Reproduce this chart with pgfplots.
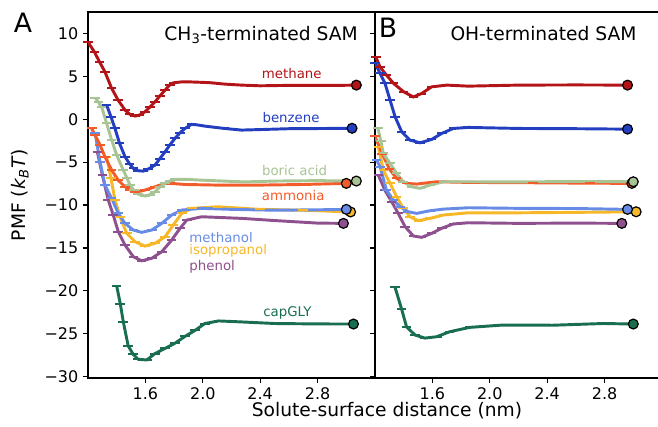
\documentclass[border=0pt]{standalone}
\usepackage{fontspec}
\setmainfont{DejaVu Sans}
\usepackage{pgfplots}
\pgfplotsset{compat=1.18}
\definecolor{cMethane}{RGB}{178,20,24}
\definecolor{cBenzene}{RGB}{36,62,192}
\definecolor{cBoric}{RGB}{168,196,148}
\definecolor{cAmmonia}{RGB}{242,92,42}
\definecolor{cMethanol}{RGB}{104,140,230}
\definecolor{cIso}{RGB}{246,184,40}
\definecolor{cPhenol}{RGB}{142,80,142}
\definecolor{cCap}{RGB}{26,110,80}
\pgfplotsset{
  common/.style={
    scale only axis, anchor=south west, height=274.5pt,
    xmin=1.2, ymin=-30.15, ymax=12.5,
    xtick={1.6,2.0,2.4,2.8}, xticklabels={1.6,2.0,2.4,2.8},
    ytick={-30,-25,-20,-15,-10,-5,0,5,10},
    tick align=outside, xtick pos=left, ytick pos=left,
    major tick length=3.75pt,
    tick style={black, line width=0.9pt},
    axis line style={line width=0.9pt},
    tick label style={font=\fontsize{12}{14}\selectfont},
  },
  pmf/.style={line width=2.2pt, mark=-, mark size=3.6pt, mark options={solid, line width=1.5pt}},
  endpt/.style={only marks, mark=*, mark size=3.7pt, draw=black, line width=0.9pt},
}
\begin{document}
\begin{tikzpicture}
\useasboundingbox (-66pt,-36pt) rectangle (427.5pt,283.5pt);
\clip (-66pt,-36pt) rectangle (427.5pt,283.5pt);
% ---------------- Panel A ----------------
\begin{axis}[common, at={(0pt,0pt)}, width=215.25pt, xmax=3.2,
  yticklabels={−30,−25,−20,−15,−10,−5,0,5,10}]
\addplot[pmf, color=cCap] coordinates {
(1.40,-19.43) (1.425,-21.5) (1.446,-23.6) (1.48,-26.4) (1.515,-27.4) (1.55,-27.97)
(1.61,-28.05) (1.667,-27.3) (1.737,-26.7) (1.806,-26.1) (1.876,-25.3) (1.946,-24.6)
(2.015,-23.8) (2.11,-23.5) (2.25,-23.6) (2.5,-23.8) (2.8,-23.85) (3.05,-23.86)};
\addplot[pmf, color=cPhenol] coordinates {
(1.265,-3.8) (1.30,-6.5) (1.341,-9.4) (1.376,-11.16) (1.411,-13.1) (1.458,-14.66)
(1.516,-16.02) (1.574,-16.49) (1.644,-16.2) (1.714,-15.44) (1.783,-14.08) (1.841,-12.72)
(1.888,-11.75) (1.992,-11.36) (2.271,-11.55) (2.5,-11.8) (2.8,-12.1) (2.98,-12.13)};
\addplot[pmf, color=cIso] coordinates {
(1.33,-4.4) (1.36,-6.9) (1.388,-9.4) (1.423,-11.36) (1.47,-13.3) (1.528,-14.27)
(1.597,-14.78) (1.667,-14.46) (1.737,-13.69) (1.794,-12.33) (1.853,-10.97) (1.923,-10.38)
(2.106,-10.2) (2.4,-10.5) (2.7,-10.6) (3.03,-10.8)};
\addplot[pmf, color=cMethanol] coordinates {
(1.25,-1.65) (1.284,-4.96) (1.318,-7.67) (1.365,-9.22) (1.411,-10.97) (1.458,-12.13)
(1.516,-12.91) (1.574,-13.18) (1.644,-12.91) (1.714,-12.13) (1.783,-11.16) (1.853,-10.58)
(1.992,-10.38) (2.2,-10.5) (2.5,-10.6) (2.8,-10.55) (3.0,-10.5)};
\addplot[pmf, color=cAmmonia] coordinates {
(1.226,-1.07) (1.249,-1.85) (1.284,-3.0) (1.318,-4.37) (1.365,-5.92) (1.41,-7.09)
(1.458,-7.87) (1.49,-8.2) (1.528,-8.45) (1.56,-8.4) (1.597,-8.25) (1.667,-7.87)
(1.737,-7.47) (1.8,-7.5) (1.876,-7.6) (2.1,-7.67) (2.4,-7.67) (2.7,-7.6) (3.0,-7.47)};
\addplot[pmf, color=cBoric] coordinates {
(1.25,2.5) (1.272,2.0) (1.295,1.45) (1.33,-0.48) (1.365,-2.43) (1.40,-4.18)
(1.446,-5.92) (1.47,-6.8) (1.493,-7.67) (1.52,-8.3) (1.55,-8.72) (1.597,-8.95)
(1.63,-8.8) (1.667,-8.45) (1.70,-7.9) (1.737,-7.47) (1.77,-7.2) (1.806,-7.0)
(1.876,-7.0) (2.0,-7.1) (2.1,-7.17) (2.29,-7.3) (2.5,-7.2) (2.8,-7.15) (3.07,-7.2)};
\addplot[pmf, color=cBenzene] coordinates {
(1.33,1.65) (1.36,0.3) (1.388,-1.07) (1.42,-2.81) (1.458,-4.37) (1.49,-5.2)
(1.516,-5.72) (1.55,-6.0) (1.585,-6.04) (1.62,-5.8) (1.667,-5.34) (1.70,-4.6)
(1.737,-3.79) (1.77,-3.0) (1.806,-2.23) (1.84,-1.6) (1.876,-1.07) (1.92,-0.6)
(1.96,-0.65) (2.015,-0.8) (2.15,-1.07) (2.27,-1.26) (2.4,-1.2) (2.6,-1.1) (2.8,-1.08) (3.04,-1.05)};
\addplot[pmf, color=cMethane] coordinates {
(1.20,9.0) (1.244,7.86) (1.28,6.7) (1.318,5.53) (1.365,3.6) (1.41,2.23) (1.458,1.07)
(1.49,0.6) (1.528,0.37) (1.56,0.5) (1.597,0.87) (1.63,1.4) (1.667,2.03) (1.70,2.7)
(1.737,3.4) (1.77,4.0) (1.795,4.25) (1.85,4.35) (1.9,4.36) (2.0,4.3) (2.06,4.25)
(2.15,4.1) (2.27,3.98) (2.4,3.9) (2.6,3.95) (2.8,3.95) (2.95,3.95) (3.07,3.98)};
\addplot[endpt, fill=cCap] coordinates {(3.05,-23.86)};
\addplot[endpt, fill=cPhenol] coordinates {(2.98,-12.13)};
\addplot[endpt, fill=cIso] coordinates {(3.03,-10.8)};
\addplot[endpt, fill=cMethanol] coordinates {(3.0,-10.5)};
\addplot[endpt, fill=cAmmonia] coordinates {(3.0,-7.47)};
\addplot[endpt, fill=cBoric] coordinates {(3.07,-7.2)};
\addplot[endpt, fill=cBenzene] coordinates {(3.04,-1.05)};
\addplot[endpt, fill=cMethane] coordinates {(3.07,3.98)};
\begin{scope}[every node/.style={font=\fontsize{10}{12}\selectfont, inner sep=0pt}]
\node[text=cMethane] at (axis cs:2.62,5.37) {methane};
\node[text=cBenzene] at (axis cs:2.615,0.21) {benzene};
\node[text=cBoric] at (axis cs:2.64,-5.92) {boric acid};
\node[text=cAmmonia] at (axis cs:2.63,-8.84) {ammonia};
\node[text=cMethanol, anchor=west] at (axis cs:1.905,-13.75) {methanol};
\node[text=cIso, anchor=west] at (axis cs:1.905,-15.3) {isopropanol};
\node[text=cPhenol, anchor=west] at (axis cs:1.905,-17.2) {phenol};
\node[text=cCap] at (axis cs:2.59,-22.6) {capGLY};
\end{scope}
\node[anchor=base, font=\fontsize{14}{16}\selectfont, inner sep=0pt] at (axis cs:2.406,9.22) {CH\textsubscript{3}-terminated SAM};
\end{axis}
% ---------------- Panel B ----------------
\begin{axis}[common, at={(215.25pt,0pt)}, width=226.0pt, xmax=3.3,
  yticklabels={}]
\addplot[pmf, color=cCap] coordinates {
(1.34,-19.6) (1.386,-22.15) (1.42,-24.2) (1.479,-25.14) (1.548,-25.5) (1.63,-25.34)
(1.72,-24.76) (1.86,-24.25) (2.09,-23.98) (2.44,-24.0) (2.79,-23.8) (3.0,-23.86)};
\addplot[pmf, color=cPhenol] coordinates {
(1.223,-6.5) (1.27,-8.3) (1.316,-9.6) (1.362,-10.97) (1.409,-12.5) (1.467,-13.6)
(1.525,-13.76) (1.595,-13.3) (1.665,-12.7) (1.746,-12.2) (1.85,-12.06) (2.2,-12.13)
(2.6,-12.1) (2.92,-12.13)};
\addplot[pmf, color=cIso] coordinates {
(1.223,-3.2) (1.258,-5.92) (1.305,-7.47) (1.351,-9.03) (1.397,-10.38) (1.444,-11.36)
(1.502,-11.82) (1.583,-11.55) (1.676,-11.16) (1.85,-10.9) (2.2,-10.9) (2.6,-10.85) (3.02,-10.78)};
\addplot[pmf, color=cMethanol] coordinates {
(1.21,-4.7) (1.235,-5.53) (1.28,-8.25) (1.328,-9.4) (1.374,-10.2) (1.432,-10.78)
(1.49,-10.97) (1.583,-10.66) (1.676,-10.47) (1.85,-10.31) (2.2,-10.38) (2.6,-10.4) (2.96,-10.5)};
\addplot[pmf, color=cAmmonia] coordinates {
(1.20,-2.0) (1.25,-4.0) (1.30,-5.8) (1.351,-6.9) (1.42,-7.47) (1.49,-7.55)
(1.63,-7.28) (1.85,-7.36) (2.3,-7.4) (2.7,-7.45) (2.99,-7.47)};
\addplot[pmf, color=cBoric] coordinates {
(1.22,-1.0) (1.24,-2.5) (1.258,-3.98) (1.305,-5.14) (1.351,-6.31) (1.397,-7.28)
(1.456,-7.87) (1.514,-8.05) (1.583,-7.67) (1.676,-7.28) (1.85,-7.28) (2.2,-7.3)
(2.6,-7.25) (3.0,-7.28)};
\addplot[pmf, color=cBenzene] coordinates {
(1.20,6.6) (1.235,5.34) (1.27,4.17) (1.305,2.23) (1.34,0.29) (1.386,-1.46)
(1.444,-2.43) (1.514,-2.74) (1.595,-2.35) (1.665,-1.65) (1.746,-1.07) (1.85,-0.95)
(2.2,-1.07) (2.6,-1.1) (2.96,-1.15)};
\addplot[pmf, color=cMethane] coordinates {
(1.205,7.3) (1.235,6.1) (1.28,5.14) (1.33,4.17) (1.40,3.2) (1.467,2.6) (1.525,3.0)
(1.595,3.78) (1.70,3.98) (1.85,3.86) (2.2,3.98) (2.6,4.0) (2.96,3.98)};
\addplot[endpt, fill=cCap] coordinates {(3.0,-23.86)};
\addplot[endpt, fill=cPhenol] coordinates {(2.92,-12.13)};
\addplot[endpt, fill=cIso] coordinates {(3.02,-10.78)};
\addplot[endpt, fill=cMethanol] coordinates {(2.96,-10.5)};
\addplot[endpt, fill=cAmmonia] coordinates {(2.99,-7.47)};
\addplot[endpt, fill=cBoric] coordinates {(3.0,-7.28)};
\addplot[endpt, fill=cBenzene] coordinates {(2.96,-1.15)};
\addplot[endpt, fill=cMethane] coordinates {(2.96,3.98)};
\node[anchor=base, font=\fontsize{14}{16}\selectfont, inner sep=0pt] at (axis cs:2.374,9.22) {OH-terminated SAM};
\end{axis}
\node[font=\fontsize{20}{24}\selectfont] at (-48.75pt,266.25pt) {A};
\node[font=\fontsize{20}{24}\selectfont] at (225pt,262.9pt) {B};
\node[rotate=90, font=\fontsize{14}{16}\selectfont] at (-51pt,137.25pt) {PMF (\textit{k}\textsubscript{\textit{B}}\textit{T})};
\node[font=\fontsize{14}{16}\selectfont] at (224.25pt,-24.75pt) {Solute-surface distance (nm)};
\end{tikzpicture}
\end{document}
